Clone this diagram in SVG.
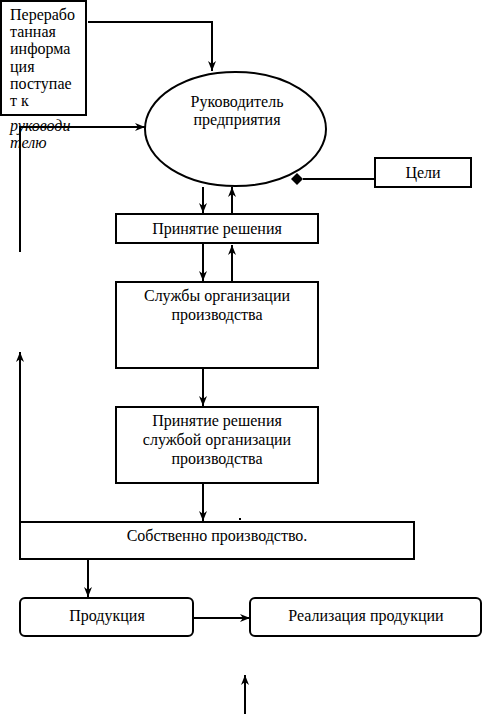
<svg xmlns="http://www.w3.org/2000/svg" width="483" height="714" viewBox="0 0 483 714">
<defs>
<style>
.b{fill:#fff;stroke:#000;stroke-width:2}
.l{fill:none;stroke:#000;stroke-width:2}
text{font-family:'Liberation Serif','Times New Roman',serif;font-size:16px;fill:#000}
.c{text-anchor:middle}
.i{font-style:italic}
</style>
<marker id="ar" viewBox="0 0 10 10" refX="10" refY="5" markerWidth="10" markerHeight="10" markerUnits="userSpaceOnUse" orient="auto">
<path d="M0,1 L10,5 L0,9 L3,5 z" fill="#000"/>
</marker>
<marker id="dm" viewBox="0 0 12 12" refX="0" refY="6" markerWidth="12" markerHeight="12" markerUnits="userSpaceOnUse" orient="auto">
<path d="M0,6 L6,0 L12,6 L6,12 z" fill="#000"/>
</marker>
</defs>
<g id="connectors">
<path class="l" d="M88,22 H212 V71" marker-end="url(#ar)"/>
<path class="l" d="M20,252 V127 H145" marker-end="url(#ar)"/>
<path class="l" d="M375,179 H303" marker-end="url(#dm)"/>
<path class="l" d="M203,187 V213" marker-end="url(#ar)"/>
<path class="l" d="M232,214 V187" marker-end="url(#ar)"/>
<path class="l" d="M203,243 V281" marker-end="url(#ar)"/>
<path class="l" d="M232,282 V245" marker-end="url(#ar)"/>
<path class="l" d="M203,368 V406" marker-end="url(#ar)"/>
<path class="l" d="M203,483 V521" marker-end="url(#ar)"/>
<path class="l" d="M20,522 V352" marker-end="url(#ar)"/>
<path class="l" d="M88,559 V597" marker-end="url(#ar)"/>
<path class="l" d="M193,618 H250" marker-end="url(#ar)"/>
<path class="l" d="M245,714 V675" marker-end="url(#ar)"/>
<rect x="239" y="518" width="2" height="2" fill="#000"/>
</g>
<g id="info">
<rect class="b" x="1" y="1" width="85" height="114"/>
<text x="10" y="20">Перерабо</text>
<text x="10" y="37">танная</text>
<text x="10" y="54">информа</text>
<text x="10" y="72">ция</text>
<text x="10" y="89">поступае</text>
<text x="10" y="106">т к</text>
<text class="i" x="10" y="131">руководи</text>
<text class="i" x="10" y="148">телю</text>
</g>
<g id="head">
<ellipse class="b" cx="235.5" cy="129" rx="90.5" ry="57"/>
<text class="c" x="237" y="107">Руководитель</text>
<text class="c" x="237" y="125">предприятия</text>
</g>
<g id="goals">
<rect class="b" x="375" y="158" width="96" height="29"/>
<text class="c" x="423" y="178">Цели</text>
</g>
<g id="decision">
<rect class="b" x="116" y="214" width="202" height="29"/>
<text class="c" x="217" y="234">Принятие решения</text>
</g>
<g id="services">
<rect class="b" x="116" y="282" width="202" height="86"/>
<text class="c" x="217" y="301">Службы организации</text>
<text class="c" x="217" y="320">производства</text>
</g>
<g id="service-decision">
<rect class="b" x="116" y="407" width="202" height="76"/>
<text class="c" x="217" y="426">Принятие решения</text>
<text class="c" x="217" y="445">службой организации</text>
<text class="c" x="217" y="464">производства</text>
</g>
<g id="production">
<rect class="b" x="20" y="522" width="394" height="37"/>
<text class="c" x="217" y="541">Собственно производство.</text>
</g>
<g id="product">
<rect class="b" x="20" y="598" width="173" height="38" rx="5"/>
<text class="c" x="107" y="621">Продукция</text>
</g>
<g id="sales">
<rect class="b" x="250" y="598" width="231" height="38" rx="5"/>
<text class="c" x="366" y="621">Реализация продукции</text>
</g>
</svg>
